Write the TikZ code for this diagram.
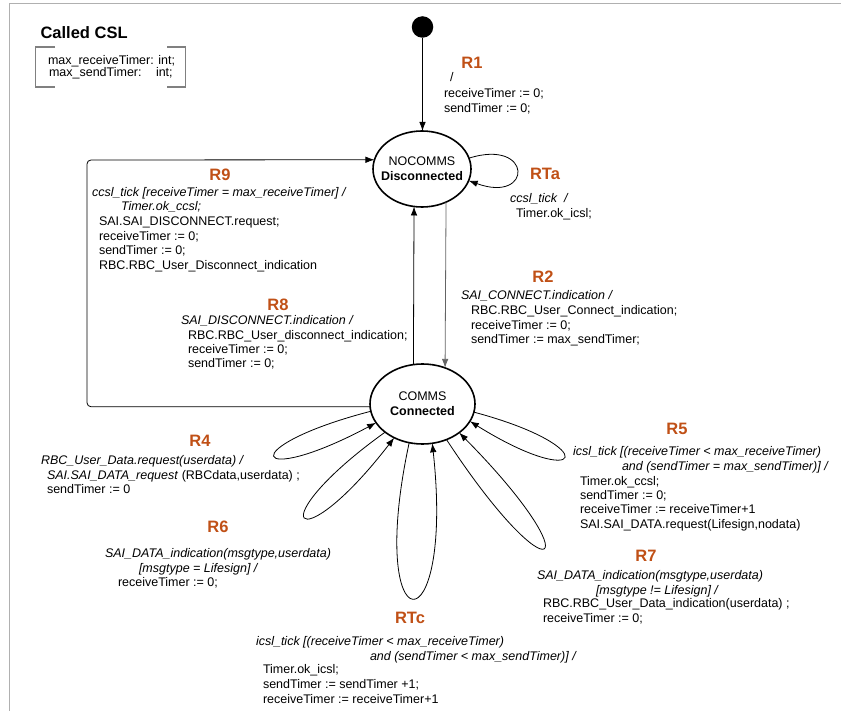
\documentclass[tikz,border=0pt]{standalone}
\usepackage{fontspec}
\setmainfont{Liberation Sans}
\usetikzlibrary{arrows.meta,shapes.geometric}
\definecolor{rtitle}{RGB}{192,80,22}
\definecolor{framec}{RGB}{176,176,176}
\definecolor{brk}{RGB}{128,128,128}
\definecolor{grayline}{RGB}{100,100,100}
\begin{document}
\begin{tikzpicture}[x=1pt,y=-1pt,
  every node/.style={inner sep=0pt, outer sep=0pt},
  lab/.style={font=\fontsize{12.5}{15}\selectfont, anchor=west, text height=10pt, text depth=2pt},
  itl/.style={lab, font=\fontsize{12.5}{15}\selectfont\itshape},
  ttl/.style={font=\fontsize{16.5}{19}\selectfont\bfseries, text=rtitle},
  stnode/.style={ellipse, draw, line width=1.6pt},
  arr/.style={-{Latex[length=9pt,width=6.5pt]}, line width=0.8pt},
]
\useasboundingbox (0,0) rectangle (841,711);
% frame
\draw[framec, line width=1.5pt] (9.5,711) -- (9.5,3.5) -- (841,3.5);

% Called CSL
\node[font=\fontsize{16.5}{19}\selectfont\bfseries, anchor=west] (csl) at (40.5,33) {Called CSL};
\draw[brk, line width=1.5pt] (55,47) -- (35.5,47) -- (35.5,87) -- (55,87);
\draw[brk, line width=1.5pt] (167,47) -- (185.5,47) -- (185.5,87) -- (167,87);
\node[lab] (csla) at (48,61) {max\_receiveTimer: int;};
\node[lab] (cslb) at (49,73) {max\_sendTimer:};
\node[lab] (cslc) at (156,73) {int;};

% states
\node[circle, fill, minimum size=21.5pt] (dot) at (422.5,27) {};
\node[stnode, minimum width=98pt, minimum height=76pt,
  label={[align=center,font=\fontsize{12.5}{15}\selectfont]center:NOCOMMS\\\textbf{Disconnected}}] (nc) at (422,169) {};
\node[stnode, minimum width=105pt, minimum height=80pt,
  label={[align=center,font=\fontsize{12.5}{15}\selectfont]center:COMMS\\\textbf{Connected}}] (co) at (422.5,404) {};

% connectors
\draw[arr] (dot) -- (dot |- nc.north);
\draw[arr] (co.103.6) -- (nc.-102);
\draw[arr, grayline] (nc.-54) -- (co.58.1);
\coordinate (r9c) at (87,160);
\draw[arr, rounded corners=4pt] (co.183) -| (r9c) -- (nc.169);
\draw[arr] (nc.13) .. controls (533,138) and (533,204) .. (nc.-14);
\draw[arr] (co.188) .. controls (233,447) and (250,490) .. (co.202);
\draw[arr] (co.217) .. controls (257,524) and (296,565) .. (co.230);
\draw[arr] (co.251) .. controls (365,648) and (455,652) .. (co.284);
\draw[arr] (co.304) .. controls (553,602) and (594,569) .. (co.322);
\draw[arr] (co.351) .. controls (605,447) and (585,493) .. (co.340);

% R1
\node[ttl] (r1) at (472,63) {R1};
\node[lab] (r1a) at (450,78) {/};
\node[lab] (r1b) at (444,94) {receiveTimer := 0;};
\node[lab] (r1c) at (444,109) {sendTimer := 0;};

% RTa
\node[ttl] (rta) at (545,174) {RTa};
\node[itl] (rtaa) at (510,199) {ccsl\_tick\ \ /};
\node[lab] (rtab) at (516,214) {Timer.ok\_icsl;};

% R9
\node[ttl] (r9) at (220,175) {R9};
\node[itl] (r9a) at (92,193) {ccsl\_tick [receiveTimer = max\_receiveTimer] /};
\node[itl] (r9b) at (121,207) {Timer.ok\_ccsl;};
\node[lab] (r9c1) at (99,222) {SAI.SAI\_DISCONNECT.request;};
\node[lab] (r9d) at (99,237) {receiveTimer := 0;};
\node[lab] (r9e) at (99,251) {sendTimer := 0;};
\node[lab] (r9f) at (99,266) {RBC.RBC\_User\_Disconnect\_indication};

% R8
\node[ttl] (r8) at (278,305) {R8};
\node[itl] (r8a) at (181,321) {SAI\_DISCONNECT.indication /};
\node[lab] (r8b) at (188,336) {RBC.RBC\_User\_disconnect\_indication;};
\node[lab] (r8c) at (188,350) {receiveTimer := 0;};
\node[lab] (r8d) at (188,364) {sendTimer := 0;};

% R2
\node[ttl] (r2) at (543,277) {R2};
\node[itl] (r2a) at (461,296) {SAI\_CONNECT.indication /};
\node[lab] (r2b) at (471,311) {RBC.RBC\_User\_Connect\_indication;};
\node[lab] (r2c) at (471,325.5) {receiveTimer := 0;};
\node[lab] (r2d) at (471,340) {sendTimer := max\_sendTimer;};

% R4
\node[ttl] (r4) at (200,441) {R4};
\node[itl] (r4a) at (41,460) {RBC\_User\_Data.request(userdata) /};
\node[lab] (r4b) at (47,475) {\textit{SAI.SAI\_DATA\_request} (RBCdata,userdata) ;};
\node[lab] (r4c) at (47,489) {sendTimer := 0};

% R5
\node[ttl] (r5) at (677,429) {R5};
\node[itl] (r5a) at (573,451) {icsl\_tick [(receiveTimer < max\_receiveTimer)};
\node[itl] (r5b) at (622,466) {and (sendTimer = max\_sendTimer)] /};
\node[lab] (r5c) at (580,481) {Timer.ok\_ccsl;};
\node[lab] (r5d) at (580,495) {sendTimer := 0;};
\node[lab] (r5e) at (580,509.5) {receiveTimer := receiveTimer+1};
\node[lab] (r5f) at (580,524) {SAI.SAI\_DATA.request(Lifesign,nodata)};

% R6
\node[ttl] (r6) at (218,527) {R6};
\node[itl] (r6a) at (105,553) {SAI\_DATA\_indication(msgtype,userdata)};
\node[itl] (r6b) at (139,568) {[msgtype = Lifesign] /};
\node[lab] (r6c) at (118,582) {receiveTimer := 0;};

% R7
\node[ttl] (r7) at (646,556) {R7};
\node[itl] (r7a) at (537,575) {SAI\_DATA\_indication(msgtype,userdata)};
\node[itl] (r7b) at (596,590) {[msgtype != Lifesign] /};
\node[lab] (r7c) at (543,603.5) {RBC.RBC\_User\_Data\_indication(userdata) ;};
\node[lab] (r7d) at (543,618) {receiveTimer := 0;};

% RTc
\node[ttl] (rtc) at (410,618) {RTc};
\node[itl] (rtca) at (256,641) {icsl\_tick [(receiveTimer < max\_receiveTimer)};
\node[itl] (rtcb) at (370,656) {and (sendTimer < max\_sendTimer)] /};
\node[lab] (rtcc) at (263,669) {Timer.ok\_icsl;};
\node[lab] (rtcd) at (263,684) {sendTimer := sendTimer +1;};
\node[lab] (rtce) at (263,699) {receiveTimer := receiveTimer+1};
\end{tikzpicture}
\end{document}
